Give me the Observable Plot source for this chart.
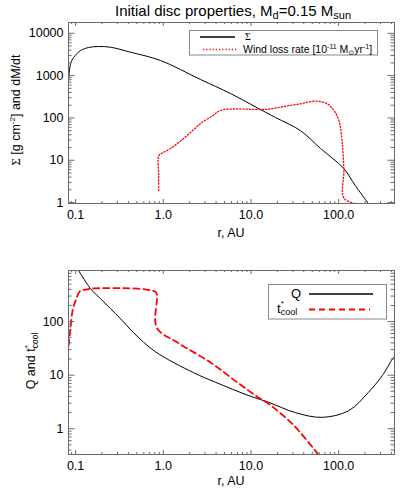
<!DOCTYPE html>
<html><head><meta charset="utf-8">
<script src="https://cdn.jsdelivr.net/npm/d3@7"></script>
<script src="https://cdn.jsdelivr.net/npm/@observablehq/plot@0.6"></script>
<style>
body{margin:0;background:#fff;}
#wrap{position:relative;width:415px;height:498px;overflow:hidden;font-family:"Liberation Sans",Arial,sans-serif;background:#fff;}
#title{position:absolute;left:68px;width:330px;top:3px;text-align:center;font-size:15px;line-height:15px;color:#000;white-space:nowrap;}
#title .s{font-size:11px;position:relative;top:3px;}
#p1{position:absolute;left:0;top:0;}
#p2{position:absolute;left:0;top:250px;}
</style></head><body>
<div id="wrap">
<div id="p1"></div><div id="p2"></div>
<div id="title">Initial disc properties, M<span class="s">d</span>=0.15 M<span class="s">sun</span></div>
</div>
<script>
// ---- data ----
const sigmaR = [0.0832, 0.0877, 0.095, 0.114, 0.141, 0.183, 0.25, 0.424, 0.93, 2.66, 5.85, 12.2, 19.1, 36.7, 62, 114, 155, 218, 240];
const sigmaV = [766, 1930, 2680, 3920, 4620, 4870, 4690, 3570, 2280, 809, 377, 167, 102, 50, 19, 6.4, 2.5, 0.95, 0.72];

const windR = [0.886, 0.886, 0.89, 1.0, 1.21, 1.7, 2.22, 2.75, 3.6, 4.49, 6.4, 9.87, 15.3, 23.7, 36.7, 54.5, 74, 88, 100.5, 110, 114.6, 116, 218];
const windV = [1.92, 4.4, 12.9, 15.2, 18.9, 32.5, 53, 78, 110, 150, 163, 160, 160, 186, 216, 250, 216, 150, 87, 24.4, 5.7, 1.24, 0.85];

const qR = [0.0924, 0.108, 0.148, 0.193, 0.25, 0.326, 0.458, 0.81, 2.22, 3.96, 9.46, 16, 32, 65, 130, 218, 314, 410, 440];
const qV = [1320, 898, 412, 266, 175, 113, 62, 27.5, 11.1, 7.34, 4.14, 3.1, 2.0, 1.63, 2.17, 4.77, 9.8, 20, 23];

const tcoolR = [0.0832, 0.0877, 0.0924, 0.1, 0.114, 0.13, 0.148, 0.51, 0.72, 0.83, 0.84, 1.44, 3.45, 6.97, 11.8, 16, 29.7, 54, 62];
const tcoolV = [35.5, 78, 160, 246, 380, 394, 412, 412, 380, 350, 77.5, 41, 17.3, 7.34, 3.95, 2.89, 1.22, 0.39, 0.29];

const xMajor = [0.1, 1, 10, 100];
const xMinor = [0.09, 0.2, 0.3, 0.4, 0.5, 0.6, 0.7, 0.8, 0.9, 2, 3, 4, 5, 6, 7, 8, 9, 20, 30, 40, 50, 60, 70, 80, 90, 200, 300, 400];
const y1Major = [1, 10, 100, 1000, 10000];
const y1Minor = [2, 3, 4, 5, 6, 7, 8, 9, 20, 30, 40, 50, 60, 70, 80, 90, 200, 300, 400, 500, 600, 700, 800, 900, 2000, 3000, 4000, 5000, 6000, 7000, 8000, 9000];
const y2Major = [1, 10, 100];
const y2Minor = [0.4, 0.5, 0.6, 0.7, 0.8, 0.9, 2, 3, 4, 5, 6, 7, 8, 9, 20, 30, 40, 50, 60, 70, 80, 90, 200, 300, 400, 500, 600, 700, 800];
const xDomain = [0.083, 433];
const y1Domain = [0.95, 18000];
const y2Domain = [0.33, 900];

const toRows = (R, V) => R.map((r, i) => ({r, v: V[i]}));
const sigma = toRows(sigmaR, sigmaV);
const wind = toRows(windR, windV);
const qRows = toRows(qR, qV);
const tcool = toRows(tcoolR, tcoolV);

const W = 415, ML = 68, MR = 21;
const AX = "#6a6a6a";
const FONT = "'Liberation Sans', Arial, sans-serif";

function panel({height, mt, mb, yDomain, yMajor, yMinor, marks}) {
  const ph = height - mt - mb, pw = W - ML - MR;
  return Plot.plot({
    width: W, height, marginTop: mt, marginBottom: mb, marginLeft: ML, marginRight: MR,
    style: {fontFamily: FONT, fontSize: "12.5px", background: "white", color: "black", overflow: "visible"},
    x: {type: "log", domain: xDomain},
    y: {type: "log", domain: yDomain},
    marks: [
      ...marks,
      Plot.tickX(xMajor, {x: d => d, insetTop: ph - 4, stroke: AX}),
      Plot.tickX(xMajor, {x: d => d, insetBottom: ph - 4, stroke: AX}),
      Plot.tickX(xMinor, {x: d => d, insetTop: ph - 2, stroke: AX}),
      Plot.tickX(xMinor, {x: d => d, insetBottom: ph - 2, stroke: AX}),
      Plot.tickY(yMajor, {y: d => d, insetRight: pw - 6.5, stroke: AX}),
      Plot.tickY(yMajor, {y: d => d, insetLeft: pw - 6.5, stroke: AX}),
      Plot.tickY(yMinor, {y: d => d, insetRight: pw - 3.5, stroke: AX}),
      Plot.tickY(yMinor, {y: d => d, insetLeft: pw - 3.5, stroke: AX}),
      Plot.axisX(xMajor, {tickSize: 0, tickPadding: 7, tickFormat: d3.format(".1f"), label: null, fontSize: 12.5}),
      Plot.axisY(yMajor, {tickSize: 0, tickPadding: 5, tickFormat: d => String(d), label: null, fontSize: 12.5}),
      Plot.frame({stroke: AX})
    ]
  });
}

// ---- top panel ----
const svg1 = panel({
  height: 250, mt: 22, mb: 47, yDomain: y1Domain, yMajor: y1Major, yMinor: y1Minor,
  marks: [
    Plot.line(sigma, {x: "r", y: "v", stroke: "black", strokeWidth: 1, curve: "catmull-rom", clip: true}),
    Plot.line(wind, {x: "r", y: "v", stroke: "#ff0000", strokeWidth: 1.3, strokeDasharray: "1.2,2", curve: "catmull-rom", clip: true})
  ]
});
document.getElementById("p1").appendChild(svg1);

// ---- bottom panel ----
const svg2 = panel({
  height: 248, mt: 20, mb: 44, yDomain: y2Domain, yMajor: y2Major, yMinor: y2Minor,
  marks: [
    Plot.line(qRows, {x: "r", y: "v", stroke: "black", strokeWidth: 1, curve: "catmull-rom", clip: true}),
    Plot.line(tcool, {x: "r", y: "v", stroke: "#ff0000", strokeWidth: 1.8, strokeDasharray: "6,4", curve: "catmull-rom", clip: true})
  ]
});
document.getElementById("p2").appendChild(svg2);

// ---- labels and legends ----
const s1 = d3.select(svg1), s2 = d3.select(svg2);

s1.append("text").attr("x", 231).attr("y", 237).attr("text-anchor", "middle").attr("font-size", 12.5).text("r, AU");
s2.append("text").attr("x", 231).attr("y", 235).attr("text-anchor", "middle").attr("font-size", 12.5).text("r, AU");

const yl1 = s1.append("text").attr("transform", "translate(20,110) rotate(-90)").attr("text-anchor", "middle").attr("font-size", 12.5);
yl1.append("tspan").attr("font-family", "'Liberation Serif', serif").text("Σ");
yl1.append("tspan").text(" [g cm");
yl1.append("tspan").attr("dy", -5).attr("font-size", 8).text("-2");
yl1.append("tspan").attr("dy", 5).text("] and dM/dt");

const yl2 = s2.append("text").attr("transform", "translate(35,111) rotate(-90)").attr("text-anchor", "middle").attr("font-size", 12.5);
yl2.append("tspan").text("Q and t");
yl2.append("tspan").attr("dy", -5).attr("font-size", 8).text("*");
yl2.append("tspan").attr("dy", 8).attr("dx", -3).attr("font-size", 8.5).text("cool");

// top legend
const g1 = s1.append("g").attr("text-anchor", "start");
g1.append("rect").attr("x", 189.5).attr("y", 30.5).attr("width", 188).attr("height", 24.5).attr("fill", "white").attr("stroke", "#888");
g1.append("line").attr("x1", 200).attr("x2", 235).attr("y1", 37).attr("y2", 37).attr("stroke", "black").attr("stroke-width", 1.5);
g1.append("text").attr("x", 245).attr("y", 40).attr("text-anchor", "start").attr("font-family", "'Liberation Serif', serif").attr("font-size", 10).text("Σ");
g1.append("line").attr("x1", 203).attr("x2", 236).attr("y1", 49.5).attr("y2", 49.5).attr("stroke", "#ff0000").attr("stroke-width", 1.3).attr("stroke-dasharray", "1.2,2");
const wt = g1.append("text").attr("x", 243).attr("y", 53).attr("text-anchor", "start").attr("font-size", 10.5);
wt.append("tspan").text("Wind loss rate [10");
wt.append("tspan").attr("dy", -4).attr("font-size", 7).text("-11");
wt.append("tspan").attr("dy", 4).text(" M");
wt.append("tspan").attr("dy", 2).attr("font-size", 7).attr("font-family", "'DejaVu Sans', sans-serif").text("⊙");
wt.append("tspan").attr("dy", -2).text("yr");
wt.append("tspan").attr("dy", -4).attr("font-size", 7).text("-1");
wt.append("tspan").attr("dy", 4).text("]");

// bottom legend (panel top is at page y = 250)
const g2 = s2.append("g").attr("text-anchor", "start");
g2.append("rect").attr("x", 268.5).attr("y", 34.5).attr("width", 118).attr("height", 34.5).attr("fill", "white").attr("stroke", "#888");
g2.append("text").attr("x", 301).attr("y", 48).attr("text-anchor", "end").attr("font-size", 13).text("Q");
g2.append("line").attr("x1", 309).attr("x2", 373).attr("y1", 44).attr("y2", 44).attr("stroke", "black").attr("stroke-width", 1.5);
const tt = g2.append("text").attr("x", 277).attr("y", 63).attr("text-anchor", "start").attr("font-size", 13);
tt.append("tspan").text("t");
tt.append("tspan").attr("dy", -7).attr("font-size", 8).text("*");
tt.append("tspan").attr("dy", 9).attr("dx", -3).attr("font-size", 9).text("cool");
g2.append("line").attr("x1", 309).attr("x2", 370).attr("y1", 59.5).attr("y2", 59.5).attr("stroke", "#ff0000").attr("stroke-width", 1.8).attr("stroke-dasharray", "6,4");
</script>
</body></html>
